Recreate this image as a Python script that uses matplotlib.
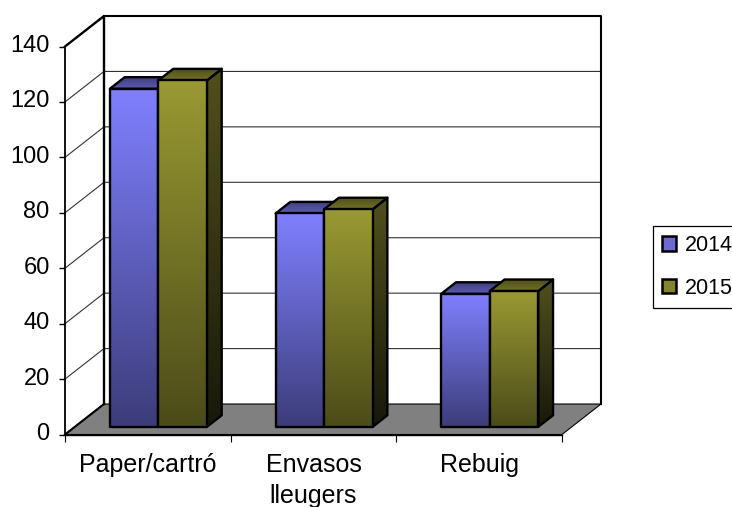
import numpy as np
import matplotlib
matplotlib.use('Agg')
import matplotlib.pyplot as plt
from matplotlib.patches import Polygon, Patch
from matplotlib.transforms import ScaledTranslation

plt.rcParams['font.family'] = ['Liberation Sans', 'DejaVu Sans']

# data
categories = ['Paper/cartró', 'Envasos\nlleugers', 'Rebuig']
series_names = ['2014', '2015']
values_2014 = [122, 77, 48]
values_2015 = [125, 78.5, 49]
y_ticks = [0, 20, 40, 60, 80, 100, 120, 140]

# oblique projection, how far the back wall sits in data units
DEPTH_X = 0.2354
DEPTH_Y = 11.0
BAR_WIDTH = 0.2928
BAR_START = 0.212
BAR_D0 = 0.25
BAR_D1 = 0.63

W, H = 732, 507
LEFT, RIGHT, TOP, BOTTOM = 65, 562, 46.5, 434.5

BLUE = dict(front=((128, 128, 255), (60, 60, 122)),
            side=((64, 64, 128), (24, 24, 50)),
            top=((62, 62, 125), (92, 92, 180)),
            flat='#6a6ad0')
OLIVE = dict(front=((153, 153, 51), (75, 75, 25)),
             side=((80, 80, 28), (24, 24, 10)),
             top=((78, 78, 26), (112, 112, 38)),
             flat='#83832f')


def proj(x, v, d):
    return (x + d * DEPTH_X, v + d * DEPTH_Y)


def shaded(ax, pts, c_top, c_bottom, z):
    # polygon filled with a vertical gradient
    pts = np.array(pts)
    grad = np.linspace(np.array(c_top), np.array(c_bottom), 128)[:, None, :] / 255
    im = ax.imshow(grad, aspect='auto', interpolation='bilinear', zorder=z,
                   extent=[pts[:, 0].min(), pts[:, 0].max(),
                           pts[:, 1].min(), pts[:, 1].max()])
    clip = Polygon(pts, closed=True, transform=ax.transData, fill=False,
                   edgecolor='black', linewidth=1.7, joinstyle='round',
                   clip_on=False, zorder=z + 0.5)
    ax.add_patch(clip)
    im.set_clip_path(clip)


def bar(ax, x, val, colors, z):
    x2 = x + BAR_WIDTH
    a = proj(x, 0, BAR_D0)
    b = proj(x2, 0, BAR_D0)
    c = proj(x2, val, BAR_D0)
    d = proj(x, val, BAR_D0)
    e = proj(x2, 0, BAR_D1)
    f = proj(x2, val, BAR_D1)
    g = proj(x, val, BAR_D1)
    shaded(ax, [b, e, f, c], *colors['side'], z)
    shaded(ax, [d, c, f, g], *colors['top'], z + 1)
    shaded(ax, [a, b, c, d], *colors['front'], z + 2)


fig = plt.figure(figsize=(W / 100, H / 100), dpi=100)
ax = fig.add_axes([LEFT / W, 1 - BOTTOM / H, (RIGHT - LEFT) / W, (BOTTOM - TOP) / H])
ax.patch.set_visible(False)
n = len(categories)
ymax = y_ticks[-1]

# floor
ax.add_patch(Polygon([proj(0, 0, 0), proj(n, 0, 0), proj(n, 0, 1), proj(0, 0, 1)],
                     closed=True, facecolor='#808080', edgecolor='black',
                     linewidth=0.8, clip_on=False, zorder=1))

# grid on back and side wall
for v in y_ticks[1:-1]:
    ax.plot([0, DEPTH_X, n + DEPTH_X], [v, v + DEPTH_Y, v + DEPTH_Y], color='#333333',
            lw=0.8, clip_on=False, zorder=1.5)

# wall outlines
ax.plot([0, DEPTH_X, DEPTH_X], [ymax, ymax + DEPTH_Y, DEPTH_Y], color='black', lw=1.7,
        clip_on=False, zorder=2)
ax.plot([DEPTH_X, n + DEPTH_X, n + DEPTH_X], [ymax + DEPTH_Y, ymax + DEPTH_Y, DEPTH_Y],
        color='black', lw=1.5, clip_on=False, zorder=2)
ax.plot([0, DEPTH_X], [0, DEPTH_Y], color='black', lw=1.5, clip_on=False, zorder=2)

# bars
z = 3
for i in range(n):
    bar(ax, i + BAR_START, values_2014[i], BLUE, z)
    bar(ax, i + BAR_START + BAR_WIDTH, values_2015[i], OLIVE, z + 4)
    z += 8

ax.set_xlim(0, n)
ax.set_ylim(0, ymax)

# axes
for side in ['top', 'right']:
    ax.spines[side].set_visible(False)
ax.spines['left'].set_linewidth(1.3)
ax.spines['bottom'].set_linewidth(1.0)
ax.set_yticks(y_ticks)
ax.tick_params(axis='y', labelsize=17, length=4, width=1, pad=7)
# labels sit a little above their ticks in the original
for t in ax.get_yticklabels():
    t.set_transform(t.get_transform() + ScaledTranslation(0, 3 / 100, fig.dpi_scale_trans))
ax.set_xticks(range(n + 1))
ax.set_xticklabels([])
ax.tick_params(axis='x', which='major', length=5, width=0.8)
ax.set_xticks(np.arange(n) + 0.5, categories, minor=True)
ax.tick_params(axis='x', which='minor', length=0, labelsize=18, pad=13)
for t in ax.get_xticklabels(minor=True):
    t.set_linespacing(1.38)
    t.set_verticalalignment('top')

# legend runs off the right edge like in the original
handles = [Patch(facecolor=BLUE['flat'], edgecolor='black', linewidth=1.8),
           Patch(facecolor=OLIVE['flat'], edgecolor='black', linewidth=1.8)]
leg = fig.legend(handles, series_names, loc='center left',
                 bbox_to_anchor=(653 / W, 1 - 267 / H), fontsize=15.5,
                 frameon=True, fancybox=False, edgecolor='black', framealpha=1,
                 borderaxespad=0, borderpad=0.42, handlelength=0.65, handleheight=0.65,
                 handletextpad=0.42, labelspacing=1.0)
leg.get_frame().set_linewidth(0.9)

fig.savefig('out.png', dpi=100)
